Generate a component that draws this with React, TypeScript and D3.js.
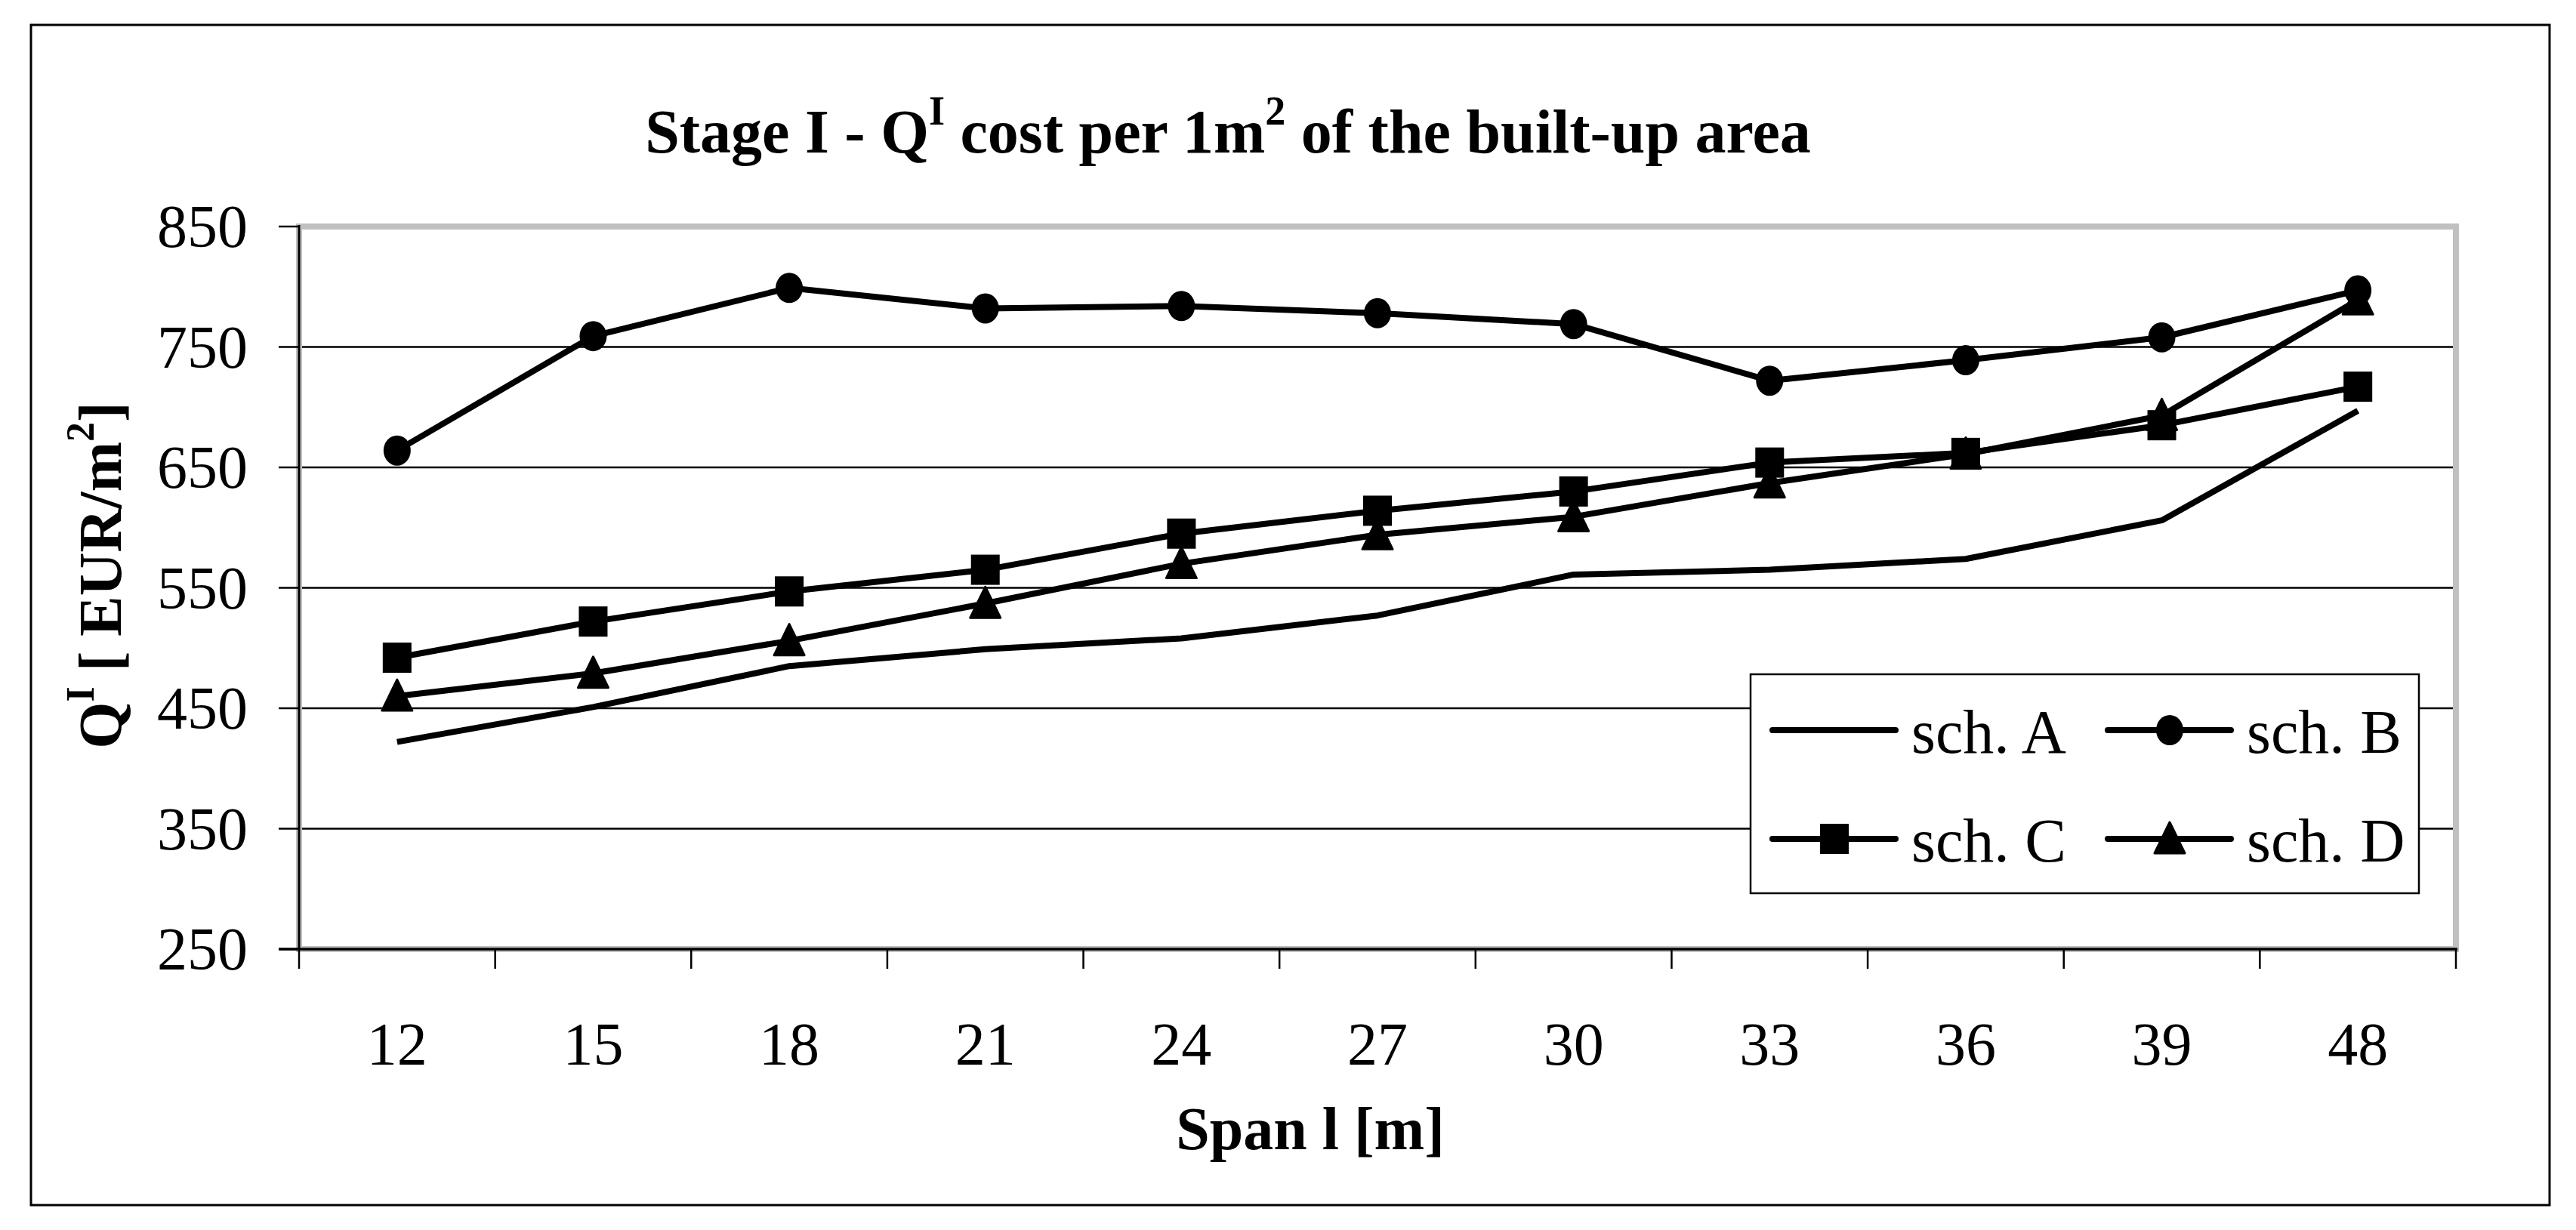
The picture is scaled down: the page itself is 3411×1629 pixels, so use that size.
import React from "react";
import * as d3 from "d3";

const spans = ["12", "15", "18", "21", "24", "27", "30", "33", "36", "39", "48"];
const schA = [422, 451, 485, 499, 508, 527, 561, 565, 574, 606, 697];
const schB = [664, 759, 799, 782, 784, 778, 769, 722, 739, 758, 797];
const schC = [492, 522, 547, 565, 595, 614, 630, 654, 662, 685, 717];
const schD = [460, 479, 506, 537, 570, 594, 609, 637, 661, 693, 789];
const yTicks = [250, 350, 450, 550, 650, 750, 850];
const seriesNames = ["sch. A", "sch. B", "sch. C", "sch. D"];
const seriesMarkers = ["none", "circle", "square", "triangle"];

const W = 3411;
const H = 1629;
const FONT = "'Liberation Serif', 'Times New Roman', serif";

function Marker({ type, cx, cy }: { type: string; cx: number; cy: number }) {
  if (type === "circle") return <ellipse cx={cx} cy={cy} rx={18} ry={20} fill="#000" />;
  if (type === "square") return <rect x={cx - 19} y={cy - 20} width={38} height={40} fill="#000" />;
  if (type === "triangle") {
    const p = d3.path();
    p.moveTo(cx, cy - 22);
    p.lineTo(cx + 20, cy + 19);
    p.lineTo(cx - 20, cy + 19);
    p.closePath();
    return <path d={p.toString()} fill="#000" stroke="#000" strokeWidth={3} strokeLinejoin="round" />;
  }
  return null;
}

export default function App() {
  const left = 396, right = 3252, top = 300, bottom = 1257;
  const x = d3.scaleBand<string>().domain(spans).range([left, right]);
  const y = d3.scaleLinear().domain([250, 850]).range([bottom, top]);
  const cx = (s: string) => (x(s) as number) + x.bandwidth() / 2;
  const line = d3
    .line<number>()
    .x((_, i) => cx(spans[i]))
    .y((v) => y(v));
  const series = [schA, schB, schC, schD];
  const bounds = spans.map((s) => x(s) as number).concat([right]);

  const legendX = 2318, legendY = 893, legendW = 885, legendH = 290;
  const legendItems = seriesNames.map((name, i) => ({
    name,
    marker: seriesMarkers[i],
    sx: i % 2 === 0 ? 2347 : 2791,
    cy: i < 2 ? 967 : 1111,
  }));

  return (
    <svg
      width={W}
      height={H}
      style={{ position: "absolute", left: 0, top: 0, background: "#fff" }}
      fontFamily={FONT}
    >
      <rect x={0} y={0} width={W} height={H} fill="#fff" />
      {/* outer frame */}
      <rect x={41} y={33} width={3376 - 41} height={1596 - 33} fill="none" stroke="#000" strokeWidth={3} />

      {/* title */}
      <text x={1626} y={202} textAnchor="middle" fontSize={82} fontWeight="bold">
        Stage I - Q
        <tspan fontSize={54} dy={-37}>I</tspan>
        <tspan dy={37}> cost per 1m</tspan>
        <tspan fontSize={54} dy={-37}>2</tspan>
        <tspan dy={37}> of the built-up area</tspan>
      </text>

      {/* gridlines */}
      {yTicks
        .filter((t) => t > 250 && t < 850)
        .map((t) => (
          <line key={t} x1={left} x2={right} y1={y(t)} y2={y(t)} stroke="#000" strokeWidth={2.5} />
        ))}

      {/* plot area border */}
      <rect x={left} y={top} width={right - left} height={bottom - top} fill="none" stroke="#c0c0c0" strokeWidth={8} />

      {/* axes */}
      <line x1={left} x2={left} y1={top - 2} y2={bottom} stroke="#000" strokeWidth={3} />
      <line x1={left - 27} x2={right + 2} y1={bottom} y2={bottom} stroke="#000" strokeWidth={3.5} />
      {yTicks.map((t) => (
        <g key={t}>
          <line x1={369} x2={left} y1={y(t)} y2={y(t)} stroke="#000" strokeWidth={2.5} />
          <text x={328} y={y(t) + 27} textAnchor="end" fontSize={80}>
            {t}
          </text>
        </g>
      ))}
      {bounds.map((b, i) => (
        <line key={i} x1={b} x2={b} y1={bottom} y2={1283} stroke="#000" strokeWidth={2.5} />
      ))}
      {spans.map((s) => (
        <text key={s} x={cx(s)} y={1410} textAnchor="middle" fontSize={80}>
          {s}
        </text>
      ))}

      {/* axis titles */}
      <text x={1735} y={1522} textAnchor="middle" fontSize={80} fontWeight="bold">
        Span l [m]
      </text>
      <text
        transform={`translate(160, 762) rotate(-90)`}
        textAnchor="middle"
        fontSize={80}
        fontWeight="bold"
      >
        Q
        <tspan fontSize={52} dy={-36}>I</tspan>
        <tspan dy={36}> [ EUR/m</tspan>
        <tspan fontSize={52} dy={-36}>2</tspan>
        <tspan dy={36}>]</tspan>
      </text>

      {/* series */}
      {series.map((vals, si) => (
        <g key={si}>
          <path d={line(vals) as string} fill="none" stroke="#000" strokeWidth={8} strokeLinejoin="round" />
          {vals.map((v, i) => (
            <Marker key={i} type={seriesMarkers[si]} cx={cx(spans[i])} cy={y(v)} />
          ))}
        </g>
      ))}

      {/* legend */}
      <rect x={legendX} y={legendY} width={legendW} height={legendH} fill="#fff" stroke="#000" strokeWidth={2.5} />
      {legendItems.map((it) => (
        <g key={it.name}>
          <line x1={it.sx} x2={it.sx + 163} y1={it.cy} y2={it.cy} stroke="#000" strokeWidth={8} strokeLinecap="round" />
          <Marker type={it.marker} cx={it.sx + 82} cy={it.cy} />
          <text x={it.sx + 184} y={it.cy + 30} fontSize={82}>
            {it.name}
          </text>
        </g>
      ))}
    </svg>
  );
}
